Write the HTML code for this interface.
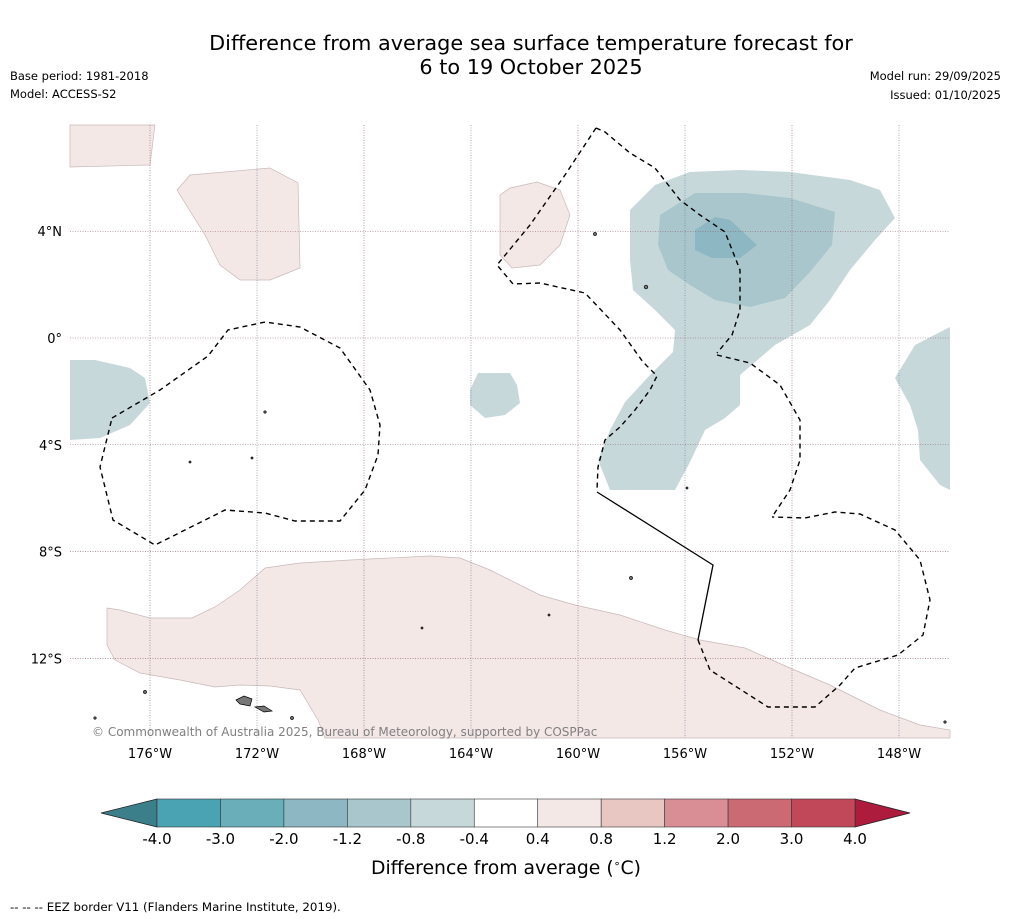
<!DOCTYPE html>
<html><head><meta charset="utf-8"><style>
body{margin:0;background:#fff;font-family:"DejaVu Sans","Liberation Sans",sans-serif}
svg{display:block}
</style></head><body>
<svg id="c" width="1011" height="919" font-family="DejaVu Sans, Liberation Sans, sans-serif">
<rect width="1011" height="919" fill="#fff"/>
<text x="531" y="50" font-size="20.8" text-anchor="middle">Difference from average sea surface temperature forecast for</text>
<text x="531" y="74" font-size="20.8" text-anchor="middle">6 to 19 October 2025</text>
<text x="10" y="80" font-size="11.5">Base period: 1981-2018</text>
<text x="10" y="98" font-size="11.5">Model: ACCESS-S2</text>
<text x="1001" y="80" font-size="11.5" text-anchor="end">Model run: 29/09/2025</text>
<text x="1001" y="99" font-size="11.5" text-anchor="end">Issued: 01/10/2025</text>
<g id="map">
<rect x="70" y="125" width="880" height="613" fill="#fff"/>
<g stroke="#c8b8b8" stroke-width="0.7" fill="#f4e8e7">
<polygon points="70,125 155,125 150,165 70,167"/>
<polygon points="177,190 190,175 270,168 298,183 300,268 270,280 240,280 220,265 205,235"/>
<polygon points="500,195 510,188 537,182 560,190 570,215 560,245 540,265 512,268 500,255"/>
<polygon points="107,608 120,610 150,618 192,618 215,607 240,590 265,568 300,563 350,560 430,556 460,558 490,570 540,595 575,605 620,615 665,630 700,640 745,648 790,668 830,685 880,710 920,725 950,730 950,738 325,738 318,720 300,690 270,686 240,685 215,687 180,680 140,673 115,660 107,645"/>
</g>
<g fill="#c7d8db">
<polygon points="70,360 95,360 130,368 145,378 150,403 130,425 100,438 70,440"/>
<polygon points="470,390 478,373 510,373 517,385 520,403 505,415 485,418 470,405"/>
<polygon points="950,327 915,345 895,378 910,405 918,430 920,460 940,485 950,490"/>
<polygon points="630,210 655,185 690,172 740,170 790,172 850,180 880,190 895,218 875,240 850,270 830,300 810,325 775,345 740,375 740,405 725,418 705,430 690,462 675,490 610,490 598,460 610,430 625,402 650,375 673,352 675,330 655,310 633,290 630,260"/>
<polygon fill="#a8c6cb" points="660,215 695,193 745,193 790,198 835,212 832,245 810,272 785,298 750,307 715,300 690,285 668,270 658,245"/>
<polygon fill="#8db7c2" points="695,230 715,217 730,220 757,245 740,258 712,258 695,250"/>
</g>
<g id="grid"></g>
<g fill="none" stroke="#000" stroke-width="1.4" stroke-dasharray="5,4">
<polyline points="112,418 160,390 208,356 228,330 265,322 300,327 340,348 370,390 380,425 378,455 365,490 340,521 295,521 265,513 225,510 155,545 113,520 100,467 112,418"/>
<polyline points="596,128 605,132 630,153 655,168 680,200 700,215 725,232 740,270 740,310 732,335 717,353"/>
<polyline points="717,355 750,363 780,385 800,420 800,460 790,490 772,517"/>
<polyline points="596,128 565,175 530,225 497,265 513,284 540,283 585,293 620,330 643,362 657,376 650,390 635,410 620,427 605,440 598,467 597,490"/>
<polyline points="698,640 710,670 768,707 815,707 840,685 855,668 898,655 923,635 930,600 920,560 895,530 860,514 835,512 805,518 772,517"/>
</g>
<polyline points="597,492 713,565 698,640" fill="none" stroke="#000" stroke-width="1.3"/>
<g fill="#777" stroke="#000" stroke-width="0.7">
<polygon points="236,700 244,696 252,699 250,706 240,704"/>
<polygon points="255,707 264,706 272,711 264,712"/>
<circle cx="145" cy="692" r="1.5"/><circle cx="265" cy="412" r="1.2"/><circle cx="190" cy="462" r="1"/><circle cx="252" cy="458" r="1"/><circle cx="595" cy="234" r="1.5"/><circle cx="646" cy="287" r="1.8"/><circle cx="422" cy="628" r="1"/><circle cx="549" cy="615" r="1"/><circle cx="631" cy="578" r="1.5"/><circle cx="292" cy="718" r="1.5"/><circle cx="95" cy="718" r="1.2"/><circle cx="945" cy="722" r="1.2"/><circle cx="687" cy="488" r="1"/>
</g>
<text x="92" y="736" font-size="12" fill="#808080">© Commonwealth of Australia 2025, Bureau of Meteorology, supported by COSPPac</text>
</g>
<g id="axes"></g>
<g id="cbar"></g>
<text x="506" y="874" font-size="18.8" text-anchor="middle">Difference from average (<tspan font-size="11" dy="-7">∘</tspan><tspan dy="7">C)</tspan></text>
<text x="10" y="911" font-size="11.8">--  --  -- EEZ border V11 (Flanders Marine Institute, 2019).</text>
</svg>
<script>
const lonTicks=[176,172,168,164,160,156,152,148];
const latTicks=[4,0,-4,-8,-12];
const cbLevels=[-4.0,-3.0,-2.0,-1.2,-0.8,-0.4,0.4,0.8,1.2,2.0,3.0,4.0];
const cbColors=["#49a3b3","#6aaeb9","#8db7c2","#a8c6cb","#c7d8db","#ffffff","#f4e8e7","#e8c6c2","#d98e96","#cc6a74","#c04858"];
const NS="http://www.w3.org/2000/svg";
const X0=70,X1=950,Y0=125,Y1=738;
const xLon=w=>150+(176-w)*26.75;
const yLat=l=>338-l*26.69;
function mk(t,a,p){const e=document.createElementNS(NS,t);for(const k in a)e.setAttribute(k,a[k]);p.appendChild(e);return e;}
const grid=document.getElementById('grid'),axes=document.getElementById('axes'),cb=document.getElementById('cbar');
lonTicks.forEach((w,i)=>{const x=xLon(w);
 const l=mk('line',{x1:x,x2:x,y1:Y0,y2:Y1,stroke:i%2?'#6a7f94':'#8a5a6a','stroke-width':0.6,'stroke-dasharray':'1,1.5'},grid);
 
 
 const t=mk('text',{x:x,y:758,'font-size':13,'text-anchor':'middle'},axes);t.textContent=w+'°W';
 
 
});
latTicks.forEach(l=>{const y=yLat(l);
 const g=mk('line',{x1:X0,x2:X1,y1:y,y2:y,stroke:'#8a5a6a','stroke-width':0.6,'stroke-dasharray':'1,1.5'},grid);
 
 
 const t=mk('text',{x:62,y:y+5,'font-size':13,'text-anchor':'end'},axes);t.textContent=l===0?'0°':Math.abs(l)+'°'+(l>0?'N':'S');
 
 
});
const cx0=157,cx1=855,cy0=799,cy1=827,n=cbColors.length,cw=(cx1-cx0)/n;
const lt=mk('polygon',{points:`${cx0},${cy0} 101,813 ${cx0},${cy1}`,fill:'#3a7f8a',stroke:'#222','stroke-width':0.8},cb);


const rt=mk('polygon',{points:`${cx1},${cy0} 910,813 ${cx1},${cy1}`,fill:'#ad1c3c',stroke:'#222','stroke-width':0.8},cb);


cbColors.forEach((c,i)=>{const r=mk('rect',{x:cx0+i*cw,y:cy0,width:cw,height:cy1-cy0,fill:c,stroke:'#333','stroke-width':0.6},cb);
 
 });
cbLevels.forEach((v,i)=>{const t=mk('text',{x:cx0+i*cw,y:844,'font-size':15,'text-anchor':'middle'},cb);t.textContent=v.toFixed(1);
 
 });
</script>
</body></html>
